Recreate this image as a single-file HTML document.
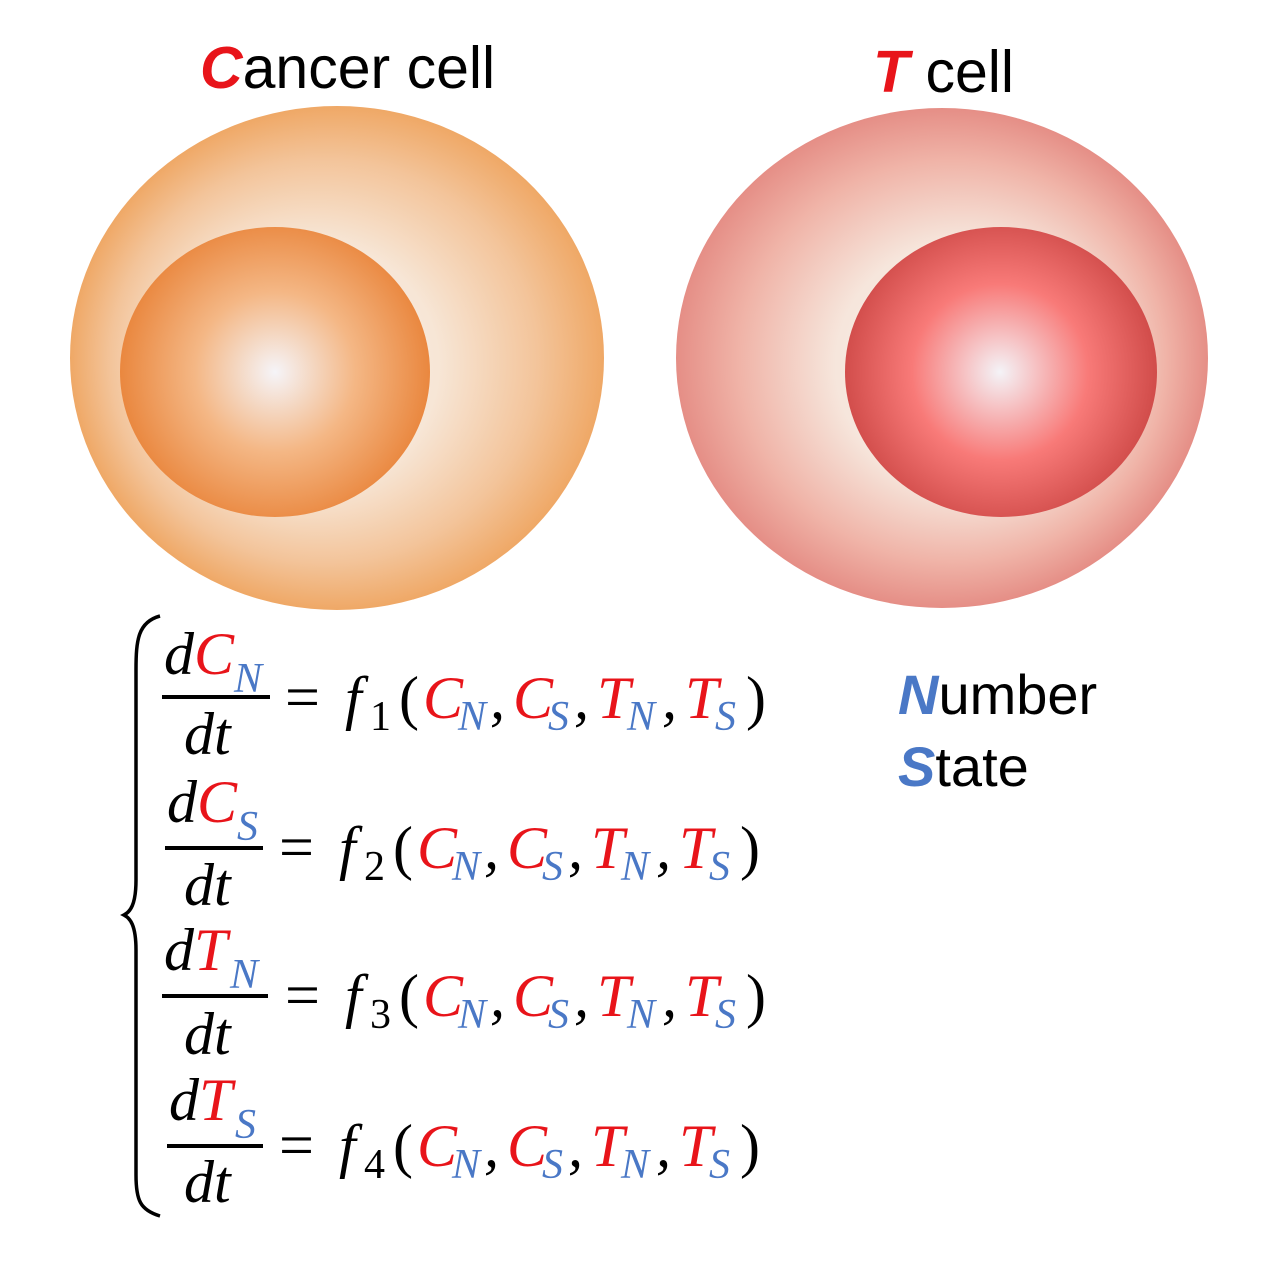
<!DOCTYPE html>
<html><head><meta charset="utf-8"><style>
html,body{margin:0;padding:0;background:#fff;}
svg{display:block;}
.m{font-family:"Liberation Serif",serif;font-style:italic;}
.r{fill:#e8141a}.b{fill:#4a78c6}.k{fill:#000}
</style></head><body>
<svg width="1280" height="1262" viewBox="0 0 1280 1262" xmlns="http://www.w3.org/2000/svg">
<defs>
<radialGradient id="co" cx="0.5" cy="0.5" r="0.5" fx="0.38" fy="0.53">
<stop offset="0" stop-color="#fdf6ee"/><stop offset="0.5" stop-color="#f7e6d6"/><stop offset="0.8" stop-color="#f3c49a"/><stop offset="1" stop-color="#efa866"/></radialGradient>
<radialGradient id="ci" cx="275" cy="372" r="160" gradientUnits="userSpaceOnUse">
<stop offset="0" stop-color="#f5f4f8"/><stop offset="0.5" stop-color="#f4b785"/><stop offset="1" stop-color="#e9843a"/></radialGradient>
<radialGradient id="to" cx="0.5" cy="0.5" r="0.5" fx="0.6" fy="0.53">
<stop offset="0" stop-color="#fdf6ee"/><stop offset="0.5" stop-color="#f6e6dc"/><stop offset="0.8" stop-color="#f0b4a8"/><stop offset="1" stop-color="#e58e86"/></radialGradient>
<radialGradient id="ti" cx="1000" cy="372" r="160" gradientUnits="userSpaceOnUse">
<stop offset="0" stop-color="#f4f3f7"/><stop offset="0.55" stop-color="#f87a78"/><stop offset="1" stop-color="#cf4a48"/></radialGradient>
</defs>

<text x="200" y="88" font-family="Liberation Sans,sans-serif" font-size="59"><tspan fill="#e8141a" font-weight="bold" font-style="italic">C</tspan><tspan fill="#000">ancer cell</tspan></text>
<text x="873" y="92" font-family="Liberation Sans,sans-serif" font-size="59"><tspan fill="#e8141a" font-weight="bold" font-style="italic">T</tspan><tspan fill="#000"> cell</tspan></text>

<ellipse cx="337" cy="358" rx="267" ry="252" fill="url(#co)"/>
<ellipse cx="275" cy="372" rx="155" ry="145" fill="url(#ci)"/>
<ellipse cx="942" cy="358" rx="266" ry="250" fill="url(#to)"/>
<ellipse cx="1001" cy="372" rx="156" ry="145" fill="url(#ti)"/>

<text x="898" y="714" font-family="Liberation Sans,sans-serif" font-size="56"><tspan fill="#4a78c6" font-weight="bold" font-style="italic">N</tspan><tspan fill="#000">umber</tspan></text>
<text x="898" y="786" font-family="Liberation Sans,sans-serif" font-size="56"><tspan fill="#4a78c6" font-weight="bold" font-style="italic">S</tspan><tspan fill="#000">tate</tspan></text>

<path d="M160 616 C138 622 136 640 136 670 L136 880 C136 905 130 912 124 915 C130 918 136 925 136 950 L136 1175 C136 1200 140 1210 160 1216" fill="none" stroke="#000" stroke-width="3.5"/>

<g class="m">
<!-- row 1 -->
<text font-size="60" x="164" y="674"><tspan class="k">d</tspan><tspan class="r">C</tspan></text>
<text font-size="42" x="234" y="692" class="b">N</text>
<rect x="162" y="695" width="108" height="4" fill="#000"/>
<text font-size="60" x="184" y="754" class="k">dt</text>
<g>
<text font-size="62" x="285" y="718" class="k" font-style="normal">=</text>
<text font-size="60" x="345" y="718" class="k">f</text>
<text font-size="42" x="370" y="730" class="k" font-style="normal">1</text>
<text font-size="60" x="399" y="718" class="k" font-style="normal">(</text>
<text font-size="60" x="423" y="718" class="r">C</text><text font-size="42" x="458" y="730" class="b">N</text>
<text font-size="60" x="490" y="718" class="k">,</text>
<text font-size="60" x="513" y="718" class="r">C</text><text font-size="42" x="548" y="730" class="b">S</text>
<text font-size="60" x="574" y="718" class="k">,</text>
<text font-size="60" x="597" y="718" class="r">T</text><text font-size="42" x="627" y="730" class="b">N</text>
<text font-size="60" x="662" y="718" class="k">,</text>
<text font-size="60" x="685" y="718" class="r">T</text><text font-size="42" x="715" y="730" class="b">S</text>
<text font-size="60" x="746" y="718" class="k" font-style="normal">)</text>
</g>
<!-- row 2 -->
<text font-size="60" x="167" y="822"><tspan class="k">d</tspan><tspan class="r">C</tspan></text>
<text font-size="42" x="237" y="840" class="b">S</text>
<rect x="165" y="846" width="98" height="4" fill="#000"/>
<text font-size="60" x="184" y="905" class="k">dt</text>
<g transform="translate(-6,150)">
<text font-size="62" x="285" y="718" class="k" font-style="normal">=</text>
<text font-size="60" x="345" y="718" class="k">f</text>
<text font-size="42" x="370" y="730" class="k" font-style="normal">2</text>
<text font-size="60" x="399" y="718" class="k" font-style="normal">(</text>
<text font-size="60" x="423" y="718" class="r">C</text><text font-size="42" x="458" y="730" class="b">N</text>
<text font-size="60" x="490" y="718" class="k">,</text>
<text font-size="60" x="513" y="718" class="r">C</text><text font-size="42" x="548" y="730" class="b">S</text>
<text font-size="60" x="574" y="718" class="k">,</text>
<text font-size="60" x="597" y="718" class="r">T</text><text font-size="42" x="627" y="730" class="b">N</text>
<text font-size="60" x="662" y="718" class="k">,</text>
<text font-size="60" x="685" y="718" class="r">T</text><text font-size="42" x="715" y="730" class="b">S</text>
<text font-size="60" x="746" y="718" class="k" font-style="normal">)</text>
</g>
<!-- row 3 -->
<text font-size="60" x="164" y="970"><tspan class="k">d</tspan><tspan class="r">T</tspan></text>
<text font-size="42" x="230" y="988" class="b">N</text>
<rect x="162" y="994" width="106" height="4" fill="#000"/>
<text font-size="60" x="184" y="1054" class="k">dt</text>
<g transform="translate(0,298)">
<text font-size="62" x="285" y="718" class="k" font-style="normal">=</text>
<text font-size="60" x="345" y="718" class="k">f</text>
<text font-size="42" x="370" y="730" class="k" font-style="normal">3</text>
<text font-size="60" x="399" y="718" class="k" font-style="normal">(</text>
<text font-size="60" x="423" y="718" class="r">C</text><text font-size="42" x="458" y="730" class="b">N</text>
<text font-size="60" x="490" y="718" class="k">,</text>
<text font-size="60" x="513" y="718" class="r">C</text><text font-size="42" x="548" y="730" class="b">S</text>
<text font-size="60" x="574" y="718" class="k">,</text>
<text font-size="60" x="597" y="718" class="r">T</text><text font-size="42" x="627" y="730" class="b">N</text>
<text font-size="60" x="662" y="718" class="k">,</text>
<text font-size="60" x="685" y="718" class="r">T</text><text font-size="42" x="715" y="730" class="b">S</text>
<text font-size="60" x="746" y="718" class="k" font-style="normal">)</text>
</g>
<!-- row 4 -->
<text font-size="60" x="169" y="1120"><tspan class="k">d</tspan><tspan class="r">T</tspan></text>
<text font-size="42" x="235" y="1138" class="b">S</text>
<rect x="167" y="1144" width="96" height="4" fill="#000"/>
<text font-size="60" x="184" y="1202" class="k">dt</text>
<g transform="translate(-6,448)">
<text font-size="62" x="285" y="718" class="k" font-style="normal">=</text>
<text font-size="60" x="345" y="718" class="k">f</text>
<text font-size="42" x="370" y="730" class="k" font-style="normal">4</text>
<text font-size="60" x="399" y="718" class="k" font-style="normal">(</text>
<text font-size="60" x="423" y="718" class="r">C</text><text font-size="42" x="458" y="730" class="b">N</text>
<text font-size="60" x="490" y="718" class="k">,</text>
<text font-size="60" x="513" y="718" class="r">C</text><text font-size="42" x="548" y="730" class="b">S</text>
<text font-size="60" x="574" y="718" class="k">,</text>
<text font-size="60" x="597" y="718" class="r">T</text><text font-size="42" x="627" y="730" class="b">N</text>
<text font-size="60" x="662" y="718" class="k">,</text>
<text font-size="60" x="685" y="718" class="r">T</text><text font-size="42" x="715" y="730" class="b">S</text>
<text font-size="60" x="746" y="718" class="k" font-style="normal">)</text>
</g>
</g>
</svg>
</body></html>
